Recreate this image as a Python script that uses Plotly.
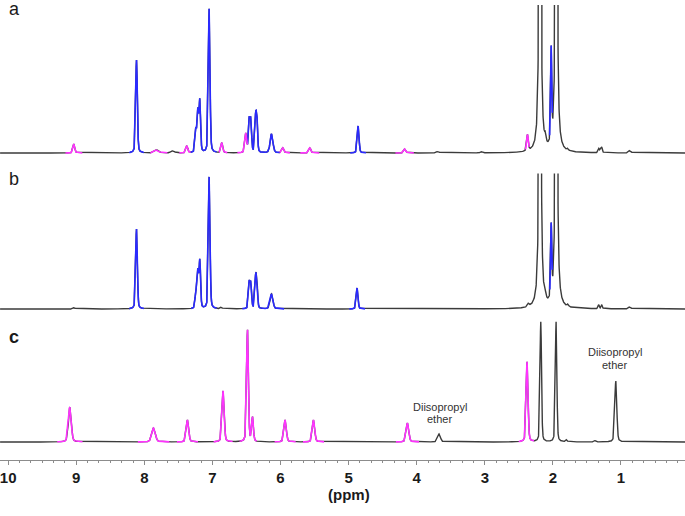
import numpy as np
import plotly.graph_objects as go

# ---------------- data (peak lists) ----------------
# heights are in "pixel units" above each trace's baseline; colour keys: k=black, b=blue, m=magenta
A_PPM = [9.035, 8.115, 7.82, 7.60, 7.57, 7.376, 7.244, 7.214, 7.185, 7.048, 6.862, 6.51,
         6.46, 6.436, 6.367, 6.348, 6.132, 5.966, 5.57, 4.86, 4.175, 3.69, 3.05, 2.373,
         2.19, 2.11, 2.025, 1.95, 1.78, 1.326, 1.30, 1.282, 0.871]
A_HEIGHT = [9, 93, 3, 1.5, 1.5, 7, 22, 40, 51, 144, 10, 19,
            31, 31, 31, 31, 19, 5, 5, 27, 4, 1.5, 1, 16,
            3800, 7, 92, 3800, 2, 4, 3, 5, 2.5]
A_HWHM = [0.016, 0.014, 0.035, 0.02, 0.02, 0.016, 0.013, 0.013, 0.013, 0.014, 0.016, 0.016,
          0.013, 0.013, 0.013, 0.013, 0.024, 0.018, 0.018, 0.015, 0.018, 0.02, 0.02, 0.014,
          0.008, 0.012, 0.010, 0.008, 0.012, 0.011, 0.011, 0.011, 0.02]
A_COLOR = ["m", "b", "m", "k", "k", "m", "b", "b", "b", "b", "m", "m",
           "b", "b", "b", "b", "b", "m", "m", "b", "m", "k", "k", "m",
           "k", "k", "b", "k", "k", "k", "k", "k", "k"]

B_PPM = [9.035, 8.115, 7.244, 7.214, 7.185, 7.048, 6.87, 6.46, 6.436, 6.367, 6.348, 6.132,
         4.875, 2.36, 2.19, 2.11, 2.025, 1.95, 1.78, 1.326, 1.282, 0.871]
B_HEIGHT = [1.5, 80, 15, 36, 47, 132, 1.5, 25, 24, 27, 26, 15,
            21, 3, 3800, 4, 71, 3800, 2, 4, 4, 2]
B_HWHM = [0.015, 0.014, 0.013, 0.013, 0.013, 0.014, 0.015, 0.013, 0.013, 0.013, 0.013, 0.024,
          0.015, 0.015, 0.008, 0.012, 0.010, 0.008, 0.012, 0.011, 0.011, 0.02]
B_COLOR = ["k", "b", "b", "b", "b", "b", "k", "b", "b", "b", "b", "b",
           "b", "k", "k", "k", "b", "k", "k", "k", "k", "k"]

C_PPM = [9.094, 7.865, 7.366, 6.843, 6.485, 6.411, 5.932, 5.515, 4.135, 3.671,
         2.379, 2.178, 1.953, 1.80, 1.38, 1.076]
C_HEIGHT = [35, 14, 22, 51, 112, 24, 22, 22, 19, 8,
            80, 120, 120, 2, 1.5, 61]
C_HWHM = [0.024, 0.03, 0.02, 0.018, 0.015, 0.015, 0.02, 0.02, 0.022, 0.024,
          0.016, 0.013, 0.013, 0.012, 0.015, 0.017]
C_COLOR = ["m", "m", "m", "m", "m", "m", "m", "m", "m", "k",
           "m", "k", "k", "k", "k", "k"]

TRACE_LABELS = ["a", "b", "c"]
TICK_VALUES = [10, 9, 8, 7, 6, 5, 4, 3, 2, 1]
TICK_TEXT = ["10", "9", "8", "7", "6", "5", "4", "3", "2", "1"]
ANNOT_TEXT = ["Diisopropyl", "ether"]
ANNOT_PPM = [3.66, 1.09]
X_TITLE = "(ppm)"

# ---------------- construction ----------------
ETA = 0.3
PPM_LO, PPM_HI = 0.06, 10.12
ppm = np.arange(PPM_LO, PPM_HI, 0.0015)

COLORS = {"k": "#3b3b3b", "b": "#2a2aff", "m": "#ff33ff"}


def spectrum(centers, heights, widths, keys):
    c = np.array(centers)[:, None]
    h = np.array(heights, dtype=float)[:, None]
    w = np.array(widths)[:, None]
    d = (ppm[None, :] - c) / w
    comp = h * (ETA / (1 + d ** 2) + (1 - ETA) * np.exp(-np.log(2) * d ** 2))
    total = comp.sum(axis=0)
    dom = comp.argmax(axis=0)
    rel = comp.max(axis=0) / h[dom, 0]
    k = np.where(rel > 0.005, np.array(keys)[dom], "k")
    return total, k


def add_spectrum(fig, centers, heights, widths, keys, yaxis):
    total, k = spectrum(centers, heights, widths, keys)
    total = np.round(total, 2)
    fig.add_trace(go.Scatter(x=ppm, y=total, mode="lines", yaxis=yaxis, xaxis="x",
                             line=dict(color=COLORS["k"], width=1.4), hoverinfo="skip",
                             showlegend=False))
    for key in ("b", "m"):
        mask = k == key
        grow = mask.copy()
        grow[1:] |= mask[:-1]
        grow[:-1] |= mask[1:]
        if not grow.any():
            continue
        y = np.where(grow, total, np.nan)
        fig.add_trace(go.Scatter(x=ppm, y=y, mode="lines", yaxis=yaxis, xaxis="x",
                                 line=dict(color=COLORS[key], width=1.6),
                                 connectgaps=False, hoverinfo="skip", showlegend=False))


fig = go.Figure()
add_spectrum(fig, A_PPM, A_HEIGHT, A_HWHM, A_COLOR, "y3")
add_spectrum(fig, B_PPM, B_HEIGHT, B_HWHM, B_COLOR, "y2")
add_spectrum(fig, C_PPM, C_HEIGHT, C_HWHM, C_COLOR, "y")

PLOT_H = 460.0
FONT = "Liberation Sans, Arial, sans-serif"
axis_grey = "#8c8c8c"

fig.update_layout(
    width=685, height=516,
    margin=dict(l=0, r=0, t=0, b=56, autoexpand=False),
    paper_bgcolor="white", plot_bgcolor="white",
    showlegend=False, hovermode=False,
    xaxis=dict(range=[PPM_HI, PPM_LO], showgrid=False, zeroline=False,
               showline=True, linecolor=axis_grey, linewidth=1,
               ticks="outside", ticklen=4, tickcolor=axis_grey, tickwidth=1,
               tickvals=TICK_VALUES, ticktext=TICK_TEXT, ticklabeloverflow="allow",
               tickfont=dict(family=FONT, size=15, color="#1a1a1a", weight="bold"),
               minor=dict(ticks="outside", dtick=1 / 6, tick0=0, ticklen=2,
                          tickcolor=axis_grey, showgrid=False),
               anchor="y"),
    yaxis=dict(domain=[0, 150 / PLOT_H], range=[-18, 132], visible=False, anchor="x"),
    yaxis2=dict(domain=[(PLOT_H - 315) / PLOT_H, (PLOT_H - 173.5) / PLOT_H],
                range=[-6, 135.5], visible=False, anchor="x"),
    yaxis3=dict(domain=[(PLOT_H - 160) / PLOT_H, (PLOT_H - 5) / PLOT_H],
                range=[-7, 148], visible=False, anchor="x"),
)

ann = []
for lab, ypx, bold in zip(TRACE_LABELS, [9, 179, 337], [False, False, True]):
    ann.append(dict(text=lab, x=14 / 685, y=(PLOT_H - ypx) / PLOT_H, xref="paper", yref="paper",
                    showarrow=False, xanchor="center", yanchor="middle",
                    font=dict(family=FONT, size=18, color="#1a1a1a",
                              weight="bold" if bold else "normal")))
# "Diisopropyl ether" labels (two lines each), placed in trace c coordinates
for xp, (y1, y2) in zip(ANNOT_PPM, [(35.5, 23.5), (90.5, 77)]):
    for txt, yy in zip(ANNOT_TEXT, (y1, y2)):
        ann.append(dict(text=txt, x=xp, y=yy, xref="x", yref="y", showarrow=False,
                        xanchor="center", yanchor="middle",
                        font=dict(family=FONT, size=11, color="#333333")))
ann.append(dict(text=X_TITLE, x=5, y=(PLOT_H - 494) / PLOT_H, xref="x", yref="paper",
                showarrow=False, xanchor="center", yanchor="middle",
                font=dict(family=FONT, size=15, color="#1a1a1a", weight="bold")))
fig.update_layout(annotations=ann)

fig.write_html("out.html", config={"displayModeBar": False, "staticPlot": True},
               post_script="document.body.style.margin='0';document.body.style.padding='0';")
